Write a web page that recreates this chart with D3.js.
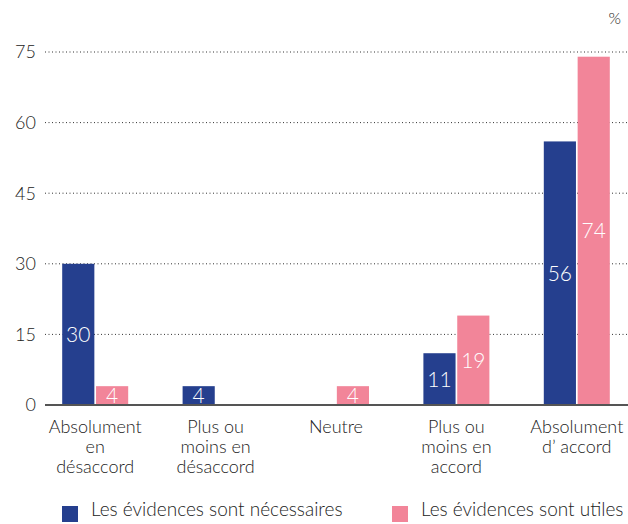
<!DOCTYPE html>
<html>
<head>
<meta charset="utf-8">
<script src="https://cdn.jsdelivr.net/npm/d3@7"></script>
<style>
  html, body { margin: 0; padding: 0; background: #fff; }
  svg text { font-family: Lato, "Open Sans", sans-serif; font-weight: 300; }
</style>
</head>
<body>
<svg id="chart" width="628" height="524"></svg>
<script>
// Categories (label lines) and the two series, in percent
const categories = [
  ["Absolument", "en", "désaccord"],
  ["Plus ou", "moins en", "désaccord"],
  ["Neutre"],
  ["Plus ou", "moins en", "accord"],
  ["Absolument", "d’ accord"]
];
const seriesNames = ["Les évidences sont nécessaires", "Les évidences sont utiles"];
const necessaires = [30, 4, null, 11, 56];
const utiles = [4, null, 4, 19, 74];
const yTicks = [0, 15, 30, 45, 60, 75];
const colors = ["#253f8e", "#f28599"];

const svg = d3.select("#chart");
const yBase = 405, yTop = 52;

const x = d3.scaleBand()
  .domain(d3.range(categories.length))
  .range([35, 637])
  .paddingInner(0).paddingOuter(0);

const sub = d3.scaleBand()
  .domain([0, 1])
  .range([x.bandwidth() / 2 - 33, x.bandwidth() / 2 + 33])
  .paddingInner(0.05);

const y = d3.scaleLinear().domain([0, 75]).range([yBase, yTop]);

// Dotted gridlines
svg.append("g").selectAll("line")
  .data(yTicks.filter(d => d > 0))
  .join("line")
  .attr("x1", 45).attr("x2", 628)
  .attr("y1", d => y(d)).attr("y2", d => y(d))
  .attr("stroke", "#333").attr("stroke-width", 1)
  .attr("stroke-dasharray", "1,2.5");

// Y tick labels
svg.append("g").selectAll("text")
  .data(yTicks)
  .join("text")
  .attr("x", 36).attr("y", d => y(d))
  .attr("dy", "0.35em")
  .attr("text-anchor", "end")
  .attr("font-size", 18)
  .attr("fill", "#222")
  .text(d => d);

// Unit label
svg.append("text")
  .attr("x", 621).attr("y", 24)
  .attr("text-anchor", "end")
  .attr("font-size", 16)
  .attr("fill", "#222")
  .text("%");

// Bars
const series = [necessaires, utiles];
series.forEach((vals, si) => {
  const g = svg.append("g");
  const data = vals.map((v, i) => ({ v, i })).filter(d => d.v !== null);
  g.selectAll("rect")
    .data(data)
    .join("rect")
    .attr("x", d => x(d.i) + sub(si))
    .attr("width", sub.bandwidth())
    .attr("y", d => y(d.v))
    .attr("height", d => yBase - y(d.v))
    .attr("fill", colors[si]);
  g.selectAll("text")
    .data(data)
    .join("text")
    .attr("x", d => x(d.i) + sub(si) + sub.bandwidth() / 2)
    .attr("y", d => (y(d.v) + yBase) / 2)
    .attr("dy", "0.36em")
    .attr("text-anchor", "middle")
    .attr("font-size", 21)
    .attr("fill", "#fff")
    .text(d => d.v);
});

// Baseline
svg.append("line")
  .attr("x1", 45).attr("x2", 628)
  .attr("y1", yBase).attr("y2", yBase)
  .attr("stroke", "#555").attr("stroke-width", 2);

// Category labels
const cat = svg.append("g").selectAll("text")
  .data(categories)
  .join("text")
  .attr("text-anchor", "middle")
  .attr("font-size", 18)
  .attr("fill", "#222");
cat.selectAll("tspan")
  .data((d, i) => d.map(line => ({ line, i })))
  .join("tspan")
  .attr("x", d => x(d.i) + x.bandwidth() / 2)
  .attr("y", (d, j) => 433 + j * 20)
  .text(d => d.line);

// Legend
const legendX = [62, 392];
const leg = svg.append("g").selectAll("g")
  .data(seriesNames)
  .join("g")
  .attr("transform", (d, i) => `translate(${legendX[i]},506)`);
leg.append("rect").attr("width", 16).attr("height", 16)
  .attr("fill", (d, i) => colors[i]);
leg.append("text")
  .attr("x", 29).attr("y", 8)
  .attr("dy", "0.1em")
  .attr("font-size", 19)
  .attr("fill", "#222")
  .text(d => d);
</script>
</body>
</html>
